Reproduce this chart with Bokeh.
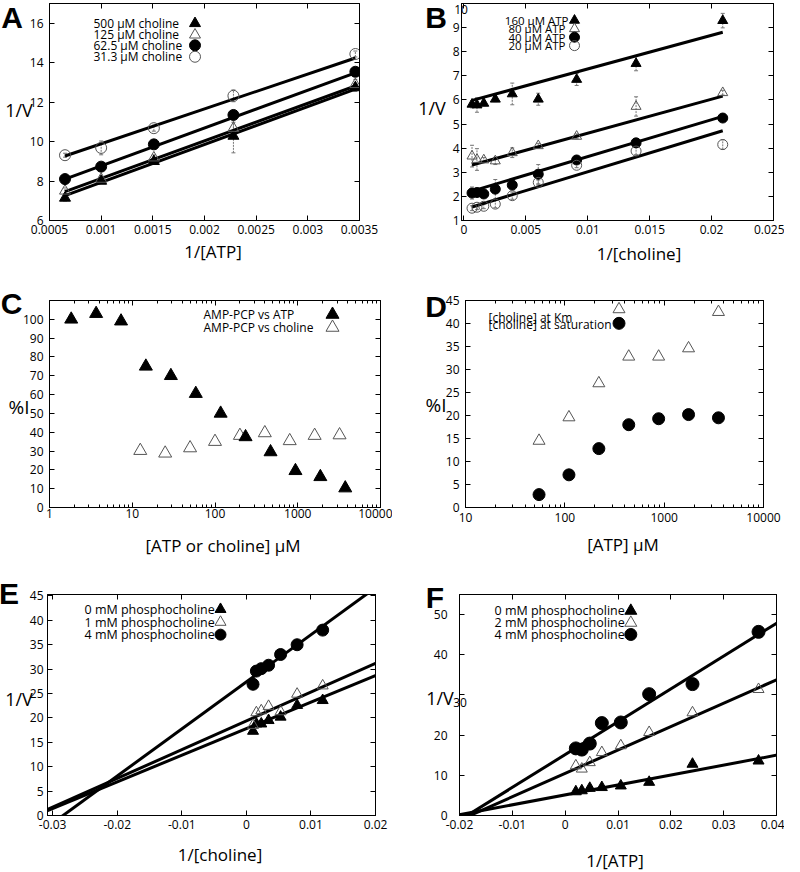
import numpy as np
from bokeh.plotting import figure
from bokeh.models import (Label, FixedTicker, CustomJSTickFormatter, Range1d,
                          ColumnDataSource, Whisker, TeeHead, LinearAxis, LogAxis, Div)
from bokeh.layouts import column, row
from bokeh.embed import file_html
from bokeh.resources import INLINE

FONT = "Open Sans"

# ---------------- Panel A : 1/V vs 1/[ATP] ----------------
a_x = [0.00065, 0.001, 0.00151, 0.00228, 0.00346]
a_500 = [7.14, 8.0, 9.0, 10.28, 12.74]
a_125 = [7.5, 8.1, 9.18, 10.68, 12.9]
a_625 = [8.1, 8.73, 9.86, 11.35, 13.54]
a_313 = [9.31, 9.68, 10.68, 12.32, 14.44]
a_err_500 = [0.15, 0.1, 0.1, 0.85, 0.2]
a_err_125 = [0.15, 0.1, 0.15, 0.3, 0.25]
a_err_625 = [0.1, 0.1, 0.1, 0.1, 0.1]
a_err_313 = [0.1, 0.35, 0.15, 0.3, 0.15]
a_fit_intercept = [6.01, 6.22, 6.85, 8.12]
a_fit_slope = [1921, 1907, 1918, 1768]
a_labels = ["500 \u03bcM  choline", "125 \u03bcM  choline",
            "62.5 \u03bcM  choline", "31.3 \u03bcM  choline"]
a_xticks = [0.0005, 0.001, 0.0015, 0.002, 0.0025, 0.003, 0.0035]
a_yticks = [6, 8, 10, 12, 14, 16]

# ---------------- Panel B : 1/V vs 1/[choline] ----------------
b_x = [0.00065, 0.00105, 0.0016, 0.00253, 0.0039, 0.006, 0.0091, 0.0139, 0.0209]
b_160 = [5.82, 5.79, 5.86, 6.03, 6.25, 6.03, 6.85, 7.51, 9.29]
b_80 = [3.67, 3.53, 3.51, 3.47, 3.81, 4.1, 4.49, 5.73, 6.30]
b_40 = [2.14, 2.16, 2.1, 2.3, 2.47, 2.92, 3.51, 4.22, 5.25]
b_20 = [1.51, 1.55, 1.59, 1.68, 2.03, 2.58, 3.29, 3.88, 4.15]
b_err_160 = [0.15, 0.3, 0.1, 0.1, 0.45, 0.25, 0.25, 0.3, 0.3]
b_err_80 = [0.45, 0.45, 0.1, 0.15, 0.2, 0.1, 0.1, 0.4, 0.1]
b_err_40 = [0.25, 0.1, 0.15, 0.4, 0.2, 0.4, 0.1, 0.1, 0.1]
b_err_20 = [0.1, 0.1, 0.1, 0.15, 0.15, 0.1, 0.1, 0.15, 0.2]
b_fit_intercept = [5.89, 3.21, 2.12, 1.46]
b_fit_slope = [139.6, 141, 153, 156]
b_labels = ["160 \u03bcM ATP", "80  \u03bcM ATP", "40  \u03bcM ATP", "20  \u03bcM ATP"]
b_xticks = [0, 0.005, 0.01, 0.015, 0.02, 0.025]
b_yticks = [1, 2, 3, 4, 5, 6, 7, 8, 9, 10]

# ---------------- Panel C : %I vs [ATP or choline] ----------------
c_atp_x = [1.83, 3.66, 7.32, 14.6, 29.3, 58.6, 117, 234, 469, 938, 1875, 3750]
c_atp_y = [100, 103, 99, 75, 70, 60.5, 50, 37.5, 29.5, 19.5, 16.3, 10.3]
c_cho_x = [12.5, 25, 50, 100, 200, 400, 800, 1600, 3200]
c_cho_y = [30.2, 28.8, 31.6, 35, 38.2, 39.6, 35.4, 38.2, 38.5]
c_labels = ["AMP-PCP vs ATP", "AMP-PCP vs choline"]
c_xticks = [1, 10, 100, 1000, 10000]
c_yticks = [0, 10, 20, 30, 40, 50, 60, 70, 80, 90, 100]

# ---------------- Panel D : %I vs [ATP] ----------------
d_x = [55, 110, 220, 440, 880, 1760, 3520]
d_km = [14.5, 19.6, 27.0, 32.8, 32.8, 34.6, 42.5]
d_sat = [2.8, 7.1, 12.8, 18.0, 19.3, 20.2, 19.5]
d_labels = ["[choline] at Km", "[choline] at saturation"]
d_xticks = [10, 100, 1000, 10000]
d_yticks = [0, 5, 10, 15, 20, 25, 30, 35, 40, 45]

# ---------------- Panel E : 1/V vs 1/[choline], phosphocholine ----------------
e_x = [0.00103, 0.00155, 0.00231, 0.00344, 0.0053, 0.00786, 0.01182]
e_0 = [17.3, 18.8, 18.8, 19.5, 20.2, 22.6, 23.6]
e_1 = [18.5, 21.1, 21.5, 22.4, 21.3, 24.9, 26.6]
e_4 = [26.9, 29.6, 30.1, 30.8, 33.0, 35.0, 38.0]
e_fit_intercept = [17.8, 19.4, 27.4]
e_fit_slope = [545, 590, 965]
e_labels = ["0 mM phosphocholine", "1 mM phosphocholine", "4 mM phosphocholine"]
e_xticks = [-0.03, -0.02, -0.01, 0, 0.01, 0.02]
e_yticks = [0, 5, 10, 15, 20, 25, 30, 35, 40, 45]

# ---------------- Panel F : 1/V vs 1/[ATP], phosphocholine ----------------
f_x = [0.00202, 0.00315, 0.00466, 0.00694, 0.01053, 0.0159, 0.0241, 0.0366]
f_0 = [5.95, 6.2, 6.8, 7.0, 7.4, 8.3, 12.8, 13.6]
f_2 = [12.4, 11.6, 13.2, 15.7, 17.4, 20.7, 25.6, 31.4]
f_4 = [16.7, 16.4, 17.9, 23.0, 23.15, 30.2, 32.7, 45.7]
f_fit_intercept = [5.13, 10.48, 15.16]
f_fit_slope = [247, 582, 817]
f_labels = ["0 mM phosphocholine", "2 mM phosphocholine", "4 mM phosphocholine"]
f_xticks = [-0.02, -0.01, 0, 0.01, 0.02, 0.03, 0.04]
f_yticks = [0, 10, 20, 30, 40, 50]

panel_letters = ["A", "B", "C", "D", "E", "F"]
x_titles = ["1/[ATP]", "1/[choline]", "[ATP or choline] \u03bcM", "[ATP] \u03bcM",
            "1/[choline]", "1/[ATP]"]
y_titles = ["1/V", "1/V", "%I", "%I", "1/V", "1/V"]


def fmt(hide=()):
    code = ("const hide = [%s];" % ",".join(str(h) for h in hide) +
            "if (hide.includes(tick)) { return ''; }"
            "return String(parseFloat(tick.toPrecision(10)));")
    return CustomJSTickFormatter(code=code)


class Panel:
    def __init__(self, fig_box, frame, xr, yr, xticks, yticks, xlog=False,
                 x_standoff=4, y_standoff=6, y_hide=()):
        fx0, fy0, fx1, fy1 = fig_box
        L, T, R, B = frame
        self.frame, self.xr, self.yr, self.xlog = frame, xr, yr, xlog
        p = figure(width=fx1 - fx0, height=fy1 - fy0,
                   x_range=Range1d(*xr), y_range=Range1d(*yr),
                   x_axis_type="log" if xlog else "linear",
                   output_backend="svg", toolbar_location=None,
                   min_border_left=L - fx0, min_border_right=fx1 - R,
                   min_border_top=T - fy0, min_border_bottom=fy1 - B)
        p.grid.visible = False
        p.outline_line_color = "black"
        p.outline_line_width = 1
        p.background_fill_color = "white"
        p.border_fill_color = "white"
        minor = []
        if xlog:
            e0 = int(round(np.log10(xticks[0])))
            e1 = int(round(np.log10(xticks[-1])))
            minor = [k * 10.0 ** e for e in range(e0, e1) for k in range(2, 10)]
        xa, ya = p.below[0], p.left[0]
        xa.ticker = FixedTicker(ticks=xticks, minor_ticks=minor)
        ya.ticker = FixedTicker(ticks=yticks)
        xa.formatter = fmt()
        ya.formatter = fmt(y_hide)
        for ax in (xa, ya):
            self._style_ticks(ax)
            ax.major_label_text_font = FONT
            ax.major_label_text_font_size = "12px"
            ax.major_label_text_color = "black"
        xa.major_label_standoff = x_standoff
        ya.major_label_standoff = y_standoff
        # mirrored inward ticks on top and right
        top = (LogAxis if xlog else LinearAxis)(
            ticker=FixedTicker(ticks=xticks, minor_ticks=minor))
        right = LinearAxis(ticker=FixedTicker(ticks=yticks))
        for ax in (top, right):
            self._style_ticks(ax)
            ax.major_label_text_font_size = "0px"
            ax.major_label_standoff = 0
            ax.formatter = CustomJSTickFormatter(code="return '';")
        p.add_layout(top, "above")
        p.add_layout(right, "right")
        self.p = p

    @staticmethod
    def _style_ticks(ax):
        ax.major_tick_in = 5
        ax.major_tick_out = 0
        ax.minor_tick_in = 3
        ax.minor_tick_out = 0
        ax.axis_line_color = "black"
        ax.major_tick_line_color = "black"
        ax.minor_tick_line_color = "black"

    def data(self, sx, sy):
        L, T, R, B = self.frame
        x0, x1 = self.xr
        y0, y1 = self.yr
        if self.xlog:
            lx0, lx1 = np.log10(x0), np.log10(x1)
            x = 10 ** (lx0 + (sx - L) / (R - L) * (lx1 - lx0))
        else:
            x = x0 + (sx - L) / (R - L) * (x1 - x0)
        y = y0 + (B - sy) / (B - T) * (y1 - y0)
        return x, y

    def label(self, sx, sy, text, size="12px", align="left"):
        x, y = self.data(sx, sy)
        self.p.add_layout(Label(x=x, y=y, text=text, text_align=align,
                                text_baseline="middle", text_font=FONT,
                                text_font_size=size, text_color="black"))

    def marks(self, x, y, kind, size):
        marker = "triangle" if kind.startswith("tri") else "circle"
        if kind.endswith("f"):
            self.p.scatter(x, y, marker=marker, size=size, fill_color="black",
                           line_color="black", line_width=1)
        else:
            self.p.scatter(x, y, marker=marker, size=size, fill_color=None,
                           line_color="#555555", line_width=1)

    def errors(self, x, y, e):
        src = ColumnDataSource(dict(x=x, lo=np.array(y) - np.array(e),
                                    hi=np.array(y) + np.array(e)))
        self.p.add_layout(Whisker(source=src, base="x", upper="hi", lower="lo",
                                  line_color="#777777", line_width=1, line_dash="2 1",
                                  upper_head=TeeHead(size=4, line_color="#777777", line_width=1),
                                  lower_head=TeeHead(size=4, line_color="#777777", line_width=1)))

    def fit(self, xs, b, m, width=3):
        xs = np.array(xs, dtype=float)
        self.p.line(xs, b + m * xs, line_color="black", line_width=width)

    def legend(self, texts, kinds, text_x, ys, marker_x, size, font_size="12px",
               align="left", marker_ys=None):
        marker_ys = marker_ys or ys
        for t, k, y, my in zip(texts, kinds, ys, marker_ys):
            self.label(text_x, y, t, size=font_size, align=align)
            mx, mdy = self.data(marker_x, my)
            self.marks([mx], [mdy], k, size)


kinds4 = ["tri_f", "tri_o", "cir_f", "cir_o"]
kinds3 = ["tri_f", "tri_o", "cir_f"]

# ---- A ----
A = Panel((8, 8, 400, 290), (57, 11, 367, 229), (0.0005, 0.0035), (6, 17), a_xticks, a_yticks,
          x_standoff=4, y_standoff=6)
for ys, es in zip([a_500, a_125, a_625, a_313], [a_err_500, a_err_125, a_err_625, a_err_313]):
    A.errors(a_x, ys, es)
for b, m in zip(a_fit_intercept, a_fit_slope):
    A.fit([a_x[0], a_x[-1]], b, m)
for ys, k in zip([a_500, a_125, a_625, a_313], kinds4):
    A.marks(a_x, ys, k, 11)
A.legend(a_labels, kinds4, 101, [31, 42.5, 53, 64.5], 202.5, 11)

# ---- B ----
B = Panel((400, 8, 792, 290), (469, 9, 781, 228), (-0.0002, 0.025), (1, 10), b_xticks, b_yticks,
          x_standoff=4, y_standoff=2, y_hide=[10])
for ys, es in zip([b_160, b_80, b_40, b_20], [b_err_160, b_err_80, b_err_40, b_err_20]):
    B.errors(b_x, ys, es)
for b, m in zip(b_fit_intercept, b_fit_slope):
    B.fit([b_x[0], b_x[-1]], b, m)
for ys, k in zip([b_160, b_80, b_40, b_20], kinds4):
    B.marks(b_x, ys, k, 10)
B.legend(b_labels, kinds4, 576, [26, 34.5, 43, 51.5], 582, 10, font_size="11.5px", align="right")

# ---- C ----
C = Panel((8, 290, 400, 580), (57, 308, 388, 515), (1, 10000), (0, 110), c_xticks, c_yticks, xlog=True,
          x_standoff=1, y_standoff=6)
C.marks(c_cho_x, c_cho_y, "tri_o", 13)
C.marks(c_atp_x, c_atp_y, "tri_f", 13)
C.legend(c_labels, ["tri_f", "tri_o"], 211, [322, 335], 340, 13)

# ---- D ----
D = Panel((400, 290, 792, 580), (473, 305, 771, 518), (10, 10000), (0, 45), d_xticks, d_yticks, xlog=True,
          x_standoff=5, y_standoff=6)
D.marks(d_x, d_km, "tri_o", 12)
D.marks(d_x, d_sat, "cir_f", 12)
D.legend(d_labels, ["tri_o", "cir_f"], 496, [322, 329.5], 626.5, 12, marker_ys=[314, 328.5])

# ---- E ----
E = Panel((8, 580, 400, 864), (55, 601, 383, 825), (-0.0308, 0.02), (0, 45.3), e_xticks, e_yticks,
          x_standoff=4, y_standoff=4)
for b, m in zip(e_fit_intercept, e_fit_slope):
    E.fit([E.xr[0] - 0.01, E.xr[1] + 0.01], b, m)
E.marks(e_x, e_0, "tri_f", 11)
E.marks(e_x, e_1, "tri_o", 11)
E.marks(e_x, e_4, "cir_f", 12)
E.legend(e_labels, kinds3, 92, [616, 629, 641.7], 228, 11, font_size="12.5px")

# ---- F ----
F = Panel((400, 580, 792, 864), (467, 602, 784, 823), (-0.02, 0.04), (0, 55), f_xticks, f_yticks,
          x_standoff=4, y_standoff=12, y_hide=[30])
for b, m in zip(f_fit_intercept, f_fit_slope):
    F.fit([F.xr[0] - 0.01, F.xr[1] + 0.01], b, m)
F.marks(f_x, f_0, "tri_f", 11)
F.marks(f_x, f_2, "tri_o", 11)
F.marks(f_x, f_4, "cir_f", 13)
F.legend(f_labels, kinds3, 502, [618.3, 630.3, 642], 638.3, 12, font_size="12.5px")


# ---- texts outside the plot frames (letters, axis titles), centred on page pixels ----
def page_text(text, cx, cy, size, bold=False, font=FONT):
    d = Div(text=text, styles={
        "position": "absolute", "left": f"{cx}px", "top": f"{cy}px",
        "transform": "translate(-50%, -50%)", "white-space": "nowrap",
        "font-family": font, "font-size": size, "line-height": "1",
        "font-weight": "bold" if bold else "normal",
        "margin": "0", "padding": "0", "color": "black", "z-index": "10"})
    try:
        d.stylesheets = ["div { line-height: 1; margin: 0; padding: 0; }"]
    except Exception:
        pass
    return d


letter_pos = [(12, 18), (436, 18), (11.5, 304), (436, 307), (9, 594), (435, 597.5)]
x_title_pos = [(213, 251), (639, 253), (223, 545), (623, 544), (220, 854), (615, 860)]
y_title_pos = [(19, 110), (432, 108), (19, 407), (436, 405), (19, 699), (440, 698)]
# tick labels moved off their default place in the reference (B: "10", F: "30")
moved_ticks = [("10", 461, 10), ("30", 460, 702.5)]

divs = []
for t, (cx, cy) in zip(panel_letters, letter_pos):
    divs.append(page_text(t, cx, cy, "30px", bold=True, font="Liberation Sans"))
for t, (cx, cy) in zip(x_titles, x_title_pos):
    divs.append(page_text(t, cx, cy, "17px"))
for t, (cx, cy) in zip(y_titles, y_title_pos):
    divs.append(page_text(t, cx, cy, "18px" if t == "1/V" else "19px"))
for t, cx, cy in moved_ticks:
    divs.append(page_text(t, cx, cy, "12px"))

layout = column(row(A.p, B.p), row(C.p, D.p), row(E.p, F.p))
open("out.html", "w").write(file_html([layout] + divs, INLINE))
